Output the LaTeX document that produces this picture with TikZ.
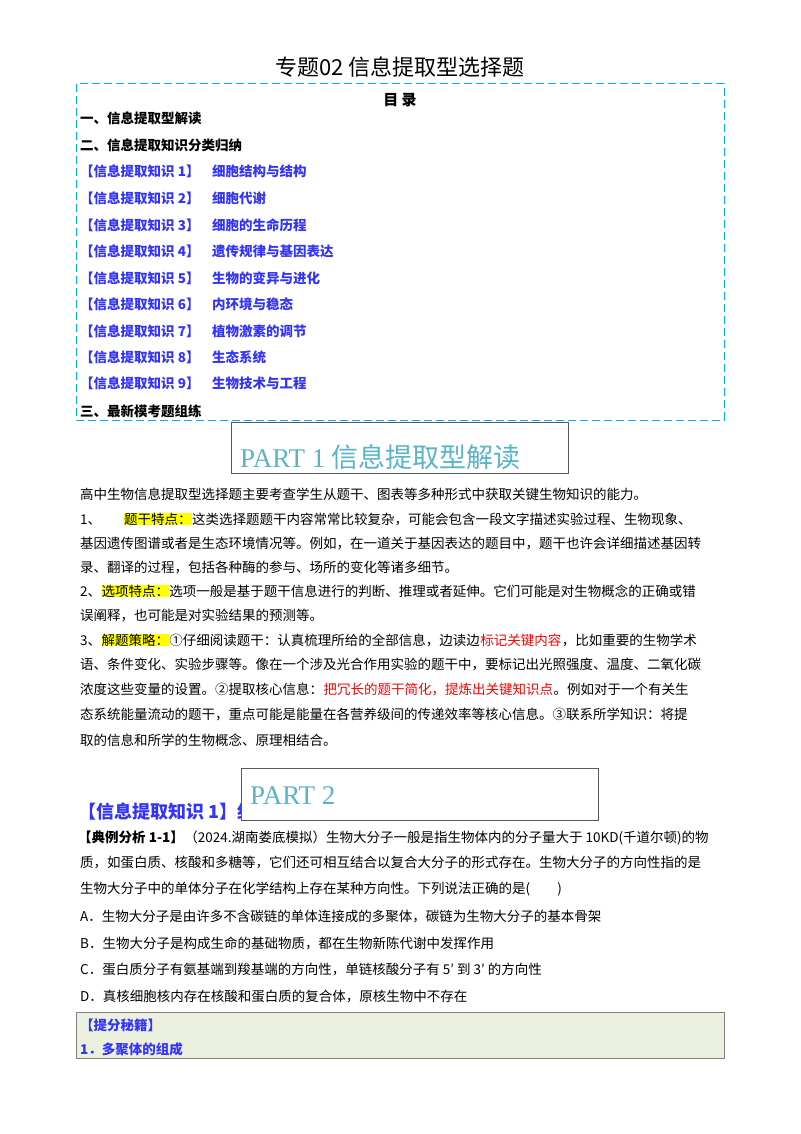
\documentclass[tikz,border=0pt]{standalone}
\usepackage{fontspec}
\setmainfont{Noto Sans CJK SC}
\newfontfamily\serifpart{Liberation Serif}
\definecolor{dcyan}{RGB}{0,176,240}
\definecolor{tblue}{RGB}{51,51,255}
\definecolor{partc}{RGB}{90,180,200}
\definecolor{hl}{RGB}{255,255,0}
\definecolor{boxg}{RGB}{235,241,222}
\begin{document}
\begin{tikzpicture}[x=1pt,y=-1pt,
  t/.style={anchor=base west,inner sep=0pt,font=\fontsize{13.5}{14}\selectfont},
  tb/.style={t,font=\fontsize{13.5}{14}\selectfont\bfseries},
  toc/.style={t,font=\fontsize{13.5}{14}\selectfont\bfseries,text=tblue},
  hlt/.style={t,fill=hl},
  redt/.style={t,text=red},
  part/.style={anchor=base west,inner sep=0pt,font=\fontsize{27}{28}\selectfont,text=partc}]
\useasboundingbox (0,0) rectangle (800,1134);
\node[anchor=base,inner sep=0pt,font=\fontsize{22}{24}\selectfont] (title) at (400,76) {专题02\ 信息提取型选择题};
\draw[dcyan,dashed,dash pattern=on 8pt off 4pt,line width=1pt] (76,84) rectangle (724,420);
\node[anchor=base,inner sep=0pt,font=\fontsize{15}{16}\selectfont\bfseries] (ml) at (400,106) {目\ 录};
\node[tb] (s1) at (80,124) {一、信息提取型解读};
\node[tb] (s2) at (80,151) {二、信息提取知识分类归纳};
\foreach \i/\y/\s in {1/177/细胞结构与结构,2/203/细胞代谢,3/230/细胞的生命历程,4/256/遗传规律与基因表达,5/283/生物的变异与进化,6/309/内环境与稳态,7/336/植物激素的调节,8/362/生态系统,9/388/生物技术与工程}{
  \node[toc] (k\i) at (80,\y) {【信息提取知识\ \i】};
  \node[toc] (n\i) at (212,\y) {\s};
}
\node[tb] (s3) at (80,416) {三、最新模考题组练};
\draw[line width=1pt,gray!70!black,fill=white] (231,422) rectangle (568,473);
\node[part] (p1) at (240,467) {{\serifpart PART 1} 信息提取型解读};
\node[t] (l1) at (80,499) {高中生物信息提取型选择题主要考查学生从题干、图表等多种形式中获取关键生物知识的能力。};
\node[t] (l2a) at (80,524) {1、};
\node[hlt,anchor=base west] (l2b) at (124,524) {题干特点：};
\node[t,anchor=base west] (l2c) at (l2b.base east) {这类选择题题干内容常常比较复杂，可能会包含一段文字描述实验过程、生物现象、};
\node[t] (l3) at (80,548) {基因遗传图谱或者是生态环境情况等。例如，在一道关于基因表达的题目中，题干也许会详细描述基因转};
\node[t] (l4) at (80,572) {录、翻译的过程，包括各种酶的参与、场所的变化等诸多细节。};
\node[t] (l5a) at (80,596) {2、};
\node[hlt,anchor=base west] (l5b) at (l5a.base east) {选项特点：};
\node[t,anchor=base west] (l5c) at (l5b.base east) {选项一般是基于题干信息进行的判断、推理或者延伸。它们可能是对生物概念的正确或错};
\node[t] (l6) at (80,620) {误阐释，也可能是对实验结果的预测等。};
\node[t] (l7a) at (80,645) {3、};
\node[hlt,anchor=base west] (l7b) at (l7a.base east) {解题策略：};
\node[t,anchor=base west] (l7c) at (l7b.base east) {①仔细阅读题干：认真梳理所给的全部信息，边读边};
\node[redt,anchor=base west] (l7d) at (l7c.base east) {标记关键内容};
\node[t,anchor=base west] (l7e) at (l7d.base east) {，比如重要的生物学术};
\node[t] (l8) at (80,669) {语、条件变化、实验步骤等。像在一个涉及光合作用实验的题干中，要标记出光照强度、温度、二氧化碳};
\node[t] (l9a) at (80,694) {浓度这些变量的设置。②提取核心信息：};
\node[redt,anchor=base west] (l9b) at (l9a.base east) {把冗长的题干简化，提炼出关键知识点};
\node[t,anchor=base west] (l9c) at (l9b.base east) {。例如对于一个有关生};
\node[t] (l10) at (80,719) {态系统能量流动的题干，重点可能是能量在各营养级间的传递效率等核心信息。③联系所学知识：将提};
\node[t] (l11) at (80,745) {取的信息和所学的生物概念、原理相结合。};
\node[anchor=base west,inner sep=0pt,font=\fontsize{18}{20}\selectfont\bfseries,text=tblue] (h1) at (78,818) {【信息提取知识\ 1】细胞的结构与功能};
\draw[line width=1pt,gray!70!black,fill=white] (241,768) rectangle (598,820);
\node[part] (p2) at (250,804) {\serifpart PART 2};
\node[tb] (e1a) at (78,842) {【典例分析\ 1-1】};
\node[t,anchor=base west] (e1b) at (e1a.base east) {（2024.湖南娄底模拟）生物大分子一般是指生物体内的分子量大于 10KD(千道尔顿)的物};
\node[t] (e2) at (80,867) {质，如蛋白质、核酸和多糖等，它们还可相互结合以复合大分子的形式存在。生物大分子的方向性指的是};
\node[t] (e3) at (80,893) {生物大分子中的单体分子在化学结构上存在某种方向性。下列说法正确的是(\qquad)};
\node[t] (oa) at (80,921) {A．生物大分子是由许多不含碳链的单体连接成的多聚体，碳链为生物大分子的基本骨架};
\node[t] (ob) at (80,948) {B．生物大分子是构成生命的基础物质，都在生物新陈代谢中发挥作用};
\node[t] (oc) at (80,974) {C．蛋白质分子有氨基端到羧基端的方向性，单链核酸分子有 5′ 到 3′ 的方向性};
\node[t] (od) at (80,1001) {D．真核细胞核内存在核酸和蛋白质的复合体，原核生物中不存在};
\draw[gray,fill=boxg] (76,1012) rectangle (724,1058);
\node[toc] (tf) at (80,1030) {【提分秘籍】};
\node[toc] (tf1) at (80,1054) {1．多聚体的组成};
\end{tikzpicture}
\end{document}
